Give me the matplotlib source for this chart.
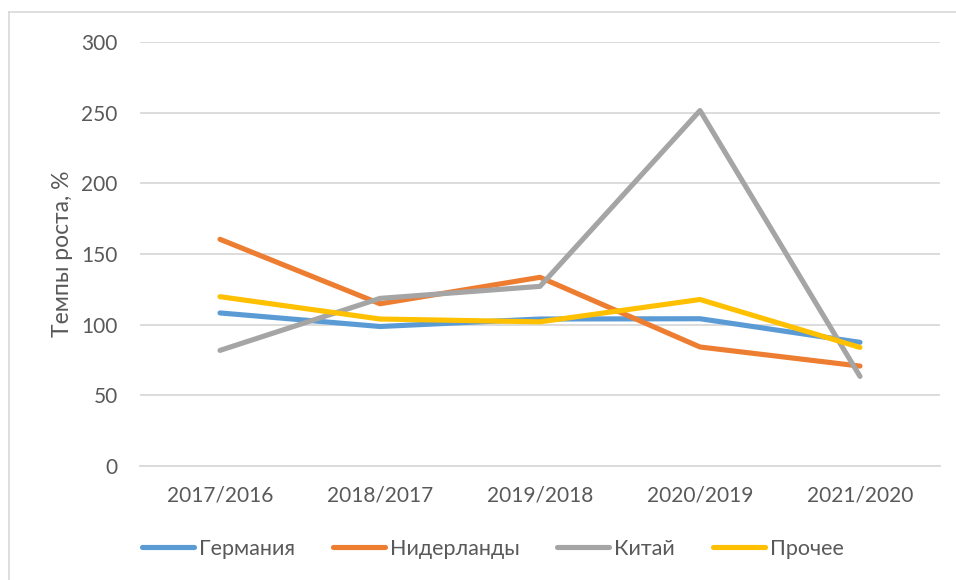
import matplotlib
matplotlib.use("Agg")
import matplotlib.pyplot as plt
from matplotlib.lines import Line2D

plt.rcParams['font.family'] = ['Lato', 'DejaVu Sans']

periods = ["2017/2016", "2018/2017", "2019/2018", "2020/2019", "2021/2020"]
germany = [108.3, 98.7, 104.0, 104.2, 87.5]
netherlands = [160.4, 114.8, 133.5, 84.2, 70.7]
china = [81.8, 118.6, 127.1, 251.5, 63.4]
other = [119.8, 104.0, 102.0, 117.8, 83.9]

series = [
    ("Германия", germany, "#5B9BD5"),
    ("Нидерланды", netherlands, "#ED7D31"),
    ("Китай", china, "#A5A5A5"),
    ("Прочее", other, "#FFC000"),
]

W, H = 956, 580
fig = plt.figure(figsize=(W / 100, H / 100), dpi=100)
ax = fig.add_axes([140 / W, 1 - 466 / H, 800 / W, 424 / H])

x = list(range(len(periods)))
for name, vals, color in series:
    ax.plot(x, vals, color=color, lw=3.7, label=name,
            solid_capstyle="round", solid_joinstyle="round")

ax.set_xlim(-0.5, len(periods) - 0.5)
ax.set_ylim(0, 300)
ax.set_yticks(range(0, 301, 50))
ax.set_xticks(x)
ax.set_xticklabels(periods)
ax.grid(axis="y", color="#D9D9D9", lw=1.3)
ax.set_axisbelow(True)
for side in ("top", "right", "left"):
    ax.spines[side].set_visible(False)
ax.spines["bottom"].set_color("#D9D9D9")
ax.spines["bottom"].set_linewidth(1.3)
ax.tick_params(axis="both", length=0, labelsize=15, colors="#595959")
ax.tick_params(axis="y", pad=16)
ax.tick_params(axis="x", pad=14)
ax.set_ylabel("Темпы роста, %", fontsize=16.5, color="#595959", labelpad=6)

leg = fig.legend(loc="center", bbox_to_anchor=(493 / W, 1 - 549 / H), ncol=4,
                 frameon=False, fontsize=15.5, handlelength=2.4,
                 handletextpad=0.25, columnspacing=1.75)
for t in leg.get_texts():
    t.set_color("#595959")

# chart frame
fig.add_artist(Line2D([8.5 / W, 8.5 / W], [0, 1 - 12 / H], transform=fig.transFigure,
                      color="#D9D9D9", lw=1.2))
fig.add_artist(Line2D([8.5 / W, 1], [1 - 12 / H, 1 - 12 / H], transform=fig.transFigure,
                      color="#D9D9D9", lw=1.2))

fig.savefig("out.png", dpi=100)
